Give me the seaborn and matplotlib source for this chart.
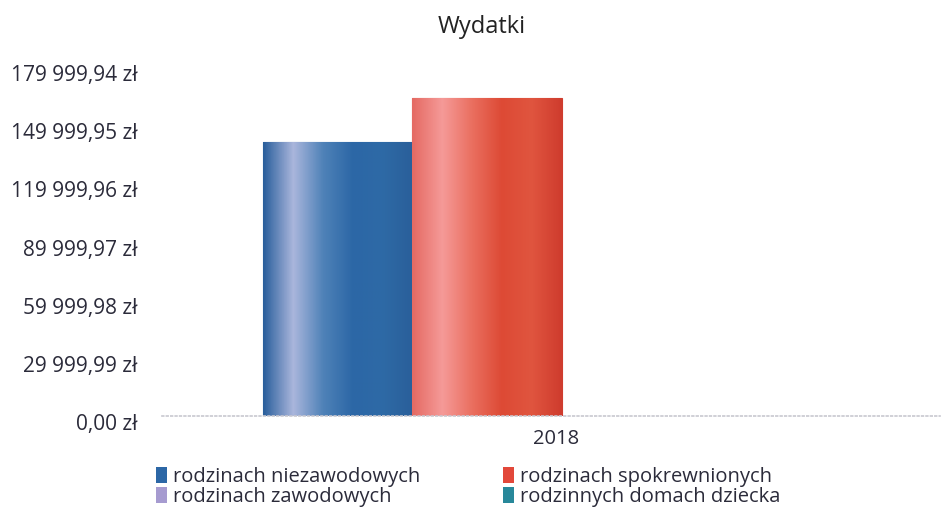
import matplotlib
matplotlib.use('Agg')
import matplotlib.pyplot as plt
import numpy as np
import pandas as pd
import seaborn as sns
from matplotlib.colors import LinearSegmentedColormap
from matplotlib.patches import Patch
from matplotlib.transforms import ScaledTranslation

sns.set_theme(style='white')
plt.rcParams['font.family'] = ['Open Sans', 'DejaVu Sans']

years = ['2018', '2018', '2018', '2018']
categories = ['rodzinach niezawodowych', 'rodzinach spokrewnionych',
              'rodzinach zawodowych', 'rodzinnych domach dziecka']
values = [141500, 164000, 0, 0]
y_ticks = [0.00, 29999.99, 59999.98, 89999.97, 119999.96, 149999.95, 179999.94]

colors = ['#2c67a6', '#e2483a', '#a69bd0', '#28889a']
gradients = [
    ['#2a5f9c', '#aab6dc', '#4f82b8', '#2c67a6', '#2e6aa6', '#2a5f9a'],
    ['#e56a63', '#f59a98', '#ea6f60', '#dd4a35', '#e0553f', '#cf3c2e'],
    ['#a69bd0', '#a69bd0'],
    ['#28889a', '#28889a'],
]

df = pd.DataFrame({'Rok': years, 'Kategoria': categories, 'Wartosc': values})


def fmt_pln(v):
    s = f'{v:,.2f}'
    return s.replace(',', ' ').replace('.', ',') + ' zł'


fig = plt.figure(figsize=(9.43, 5.13), dpi=100)
ax = fig.add_axes([0.172, 0.189, 0.825, 0.680])

sns.barplot(data=df, x='Rok', y='Wartosc', hue='Kategoria', hue_order=categories,
            palette=colors, width=0.8, gap=0, legend=False, ax=ax, linewidth=0)

# gradient fill in each bar
for cont, grad in zip(ax.containers, gradients):
    cmap = LinearSegmentedColormap.from_list('g', grad)
    for bar in cont:
        x0, y0 = bar.get_x(), bar.get_y()
        w, h = bar.get_width(), bar.get_height()
        if h <= 0:
            continue
        img = ax.imshow(np.linspace(0, 1, 200).reshape(1, -1), cmap=cmap, aspect='auto',
                        extent=[x0, x0 + w, y0, y0 + h], zorder=bar.get_zorder() + 0.1)
        img.set_clip_path(bar)
        bar.set_edgecolor(grad[-1])
        bar.set_linewidth(0.8)

ax.set_xlim(-0.535, 0.507)
ax.set_ylim(0, y_ticks[-1])
ax.set_yticks(y_ticks)
ax.set_yticklabels([fmt_pln(v) for v in y_ticks])
ax.set_xlabel('')
ax.set_ylabel('')
ax.tick_params(axis='y', length=0, pad=18, labelsize=15, labelcolor='#2b2b3a')
ax.tick_params(axis='x', length=0, pad=9, labelsize=14.5, labelcolor='#2b2b3a')
for lab in ax.get_yticklabels():
    lab.set_transform(lab.get_transform() + ScaledTranslation(0, -0.06, fig.dpi_scale_trans))
for lab in ax.get_xticklabels():
    lab.set_transform(lab.get_transform() + ScaledTranslation(-0.06, 0, fig.dpi_scale_trans))

for side in ['top', 'right', 'left']:
    ax.spines[side].set_visible(False)
ax.spines['bottom'].set_color('#c8c8d0')
ax.spines['bottom'].set_linestyle(':')
ax.spines['bottom'].set_linewidth(1.2)

fig.text(0.511, 0.948, 'Wydatki', ha='center', va='center', fontsize=17, color='#222222')

order = [0, 2, 1, 3]
handles = [Patch(facecolor=colors[i], edgecolor='none', label=categories[i]) for i in order]
fig.legend(handles=handles, loc='upper left', bbox_to_anchor=(0.155, 0.11), ncol=2,
           frameon=False, fontsize=14.5, handlelength=0.55, handleheight=0.85,
           handletextpad=0.3, columnspacing=4.1, labelspacing=0.0,
           borderpad=0, labelcolor='#2b2b3a')

fig.savefig('out.png', dpi=100)
